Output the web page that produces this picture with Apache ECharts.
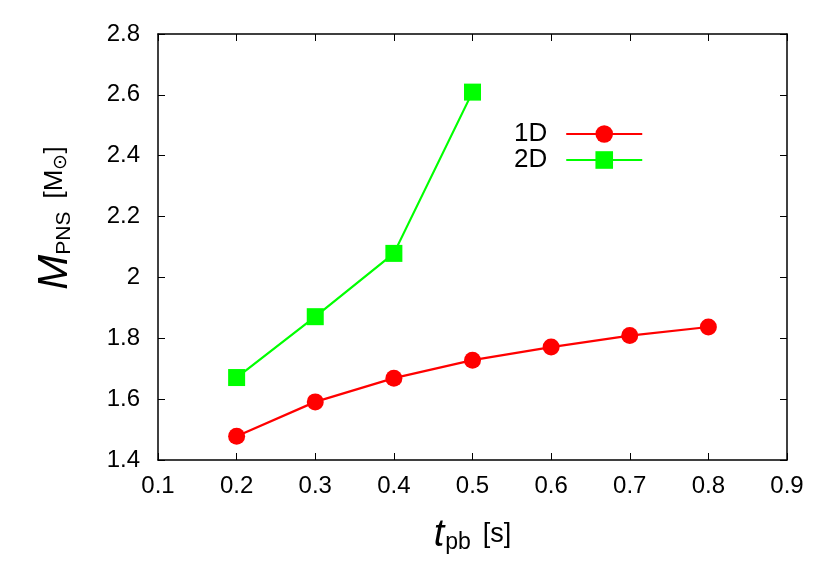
<!DOCTYPE html>
<html><head><meta charset="utf-8">
<script src="https://cdn.jsdelivr.net/npm/echarts@6/dist/echarts.min.js"></script>
<style>html,body{margin:0;padding:0;background:#fff}#c{width:830px;height:581px}</style>
</head><body><div id="c"></div>
<script>
var tpb1D = [0.2, 0.3, 0.4, 0.5, 0.6, 0.7, 0.8];
var mpns1D = [1.478, 1.591, 1.669, 1.728, 1.771, 1.809, 1.837];
var tpb2D = [0.2, 0.3, 0.4, 0.5];
var mpns2D = [1.671, 1.871, 2.079, 2.609];
var seriesNames = ['1D', '2D'];

function pairs(xs, ys){ return xs.map(function(x,i){return [x, ys[i]];}); }
var font = '"Liberation Sans", Arial, sans-serif';
var chart = echarts.init(document.getElementById('c'));
var axisCommon = {
  axisLine:{lineStyle:{color:'#000', width:1.5}},
  axisTick:{inside:true, length:7, lineStyle:{color:'#000', width:1}},
  splitLine:{show:false}
};
chart.setOption({
  animation:false,
  textStyle:{fontFamily:font},
  grid:{left:158, right:43, top:34, bottom:121},
  legend:{
    orient:'vertical', left:509, top:116, align:'right',
    itemWidth:76, itemHeight:22, itemGap:0,
    textStyle:{fontSize:26, lineHeight:22, color:'#000', fontFamily:font, padding:[0,14,0,0]},
    data:seriesNames
  },
  xAxis:[
    Object.assign({type:'value', min:0.1, max:0.9, interval:0.1, position:'bottom',
      axisLabel:{fontSize:24, color:'#000', margin:14, formatter:function(v){return +v.toFixed(1);}},
      name:'{it|t}{sub|pb}{n|[s]}', nameLocation:'middle', nameGap:56,
      nameTextStyle:{rich:{it:{fontSize:38, fontStyle:'italic', color:'#000', fontFamily:font},
        sub:{fontSize:23, color:'#000', verticalAlign:'bottom', padding:[14,0,0,1], fontFamily:font},
        n:{fontSize:27, color:'#000', padding:[0,0,0,12], fontFamily:font}}}
    }, axisCommon),
    Object.assign({type:'value', min:0.1, max:0.9, interval:0.1, position:'top',
      axisLabel:{show:false}}, axisCommon)
  ],
  yAxis:[
    Object.assign({type:'value', min:1.4, max:2.8, interval:0.2, position:'left',
      axisLabel:{fontSize:24, color:'#000', margin:18, formatter:function(v){return +v.toFixed(1);}},
      name:'{it|M}{sub|PNS}{n|[M}{s2|⊙}{n2|]}', nameLocation:'middle', nameGap:82, nameRotate:90,
      nameTextStyle:{padding:[0,0,0,58], rich:{it:{fontSize:42, fontStyle:'italic', color:'#000', fontFamily:font},
        sub:{fontSize:21, color:'#000', padding:[18,0,0,0], fontFamily:font},
        n:{fontSize:26, color:'#000', padding:[0,0,0,13], fontFamily:font},
        n2:{fontSize:26, color:'#000', fontFamily:font},
        s2:{fontSize:19, color:'#000', padding:[12,0,0,0], fontFamily:font}}}
    }, axisCommon),
    Object.assign({type:'value', min:1.4, max:2.8, interval:0.2, position:'right',
      axisLabel:{show:false}}, axisCommon)
  ],
  series:[
    {name:seriesNames[0], type:'line', data:pairs(tpb1D, mpns1D), symbol:'circle', symbolSize:17,
      lineStyle:{color:'#ff0000', width:2.2}, itemStyle:{color:'#ff0000'}},
    {name:seriesNames[1], type:'line', data:pairs(tpb2D, mpns2D), symbol:'rect', symbolSize:17,
      lineStyle:{color:'#00ff00', width:2.2}, itemStyle:{color:'#00ff00'}}
  ]
});
</script></body></html>
